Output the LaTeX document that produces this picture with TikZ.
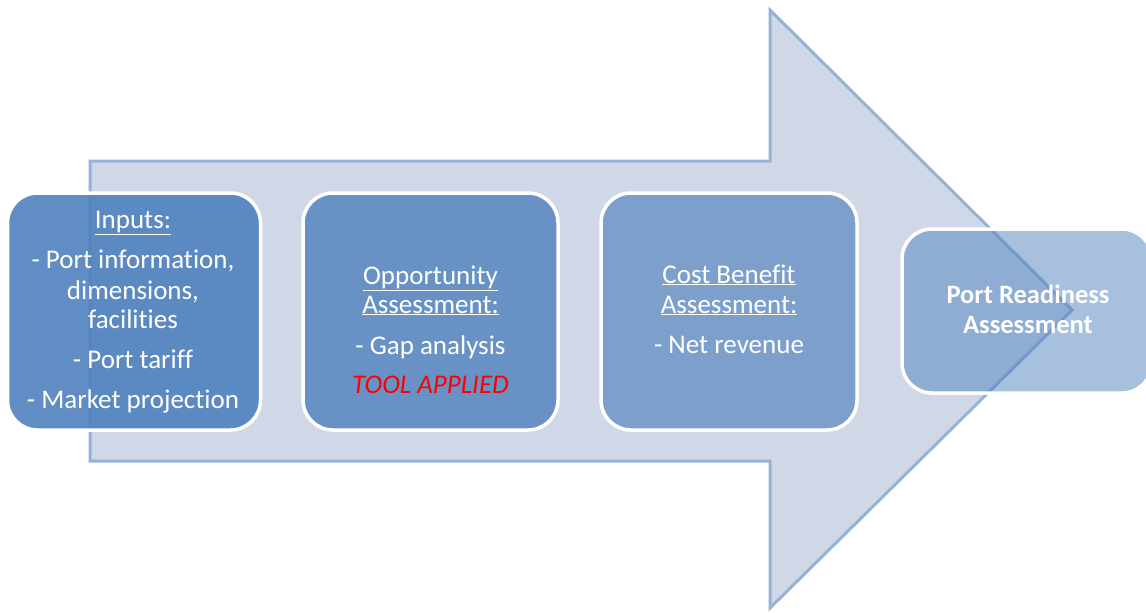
\documentclass[tikz,border=0pt]{standalone}
\usepackage{fontspec}
\setmainfont{Carlito}[RawFeature={-liga}]
\definecolor{arrowfill}{HTML}{D0D8E8}
\definecolor{arrowline}{HTML}{95B3D7}
\definecolor{accent}{HTML}{4F81BD}
\definecolor{toolred}{HTML}{FF0000}
\begin{document}
\begin{tikzpicture}[x=1pt,y=-1pt,
  box/.style={draw=white, line width=3.5pt, rounded corners=30pt, fill=accent, inner sep=0pt},
  txt/.style={text=white, anchor=base, inner sep=0pt, font=\fontsize{27}{30}\selectfont},
  boldtxt/.style={text=white, anchor=base, inner sep=0pt, font=\fontsize{26.5}{30}\selectfont\bfseries},
  redtxt/.style={text=toolred, anchor=base, inner sep=0pt, font=\fontsize{27}{30}\selectfont\itshape}]
\useasboundingbox (0,0) rectangle (1146,613);
\clip (0,0) rectangle (1146,613);
% big arrow
\draw[fill=arrowfill, draw=arrowline, line width=3pt, line join=miter]
  (90,161) -- (770,161) -- (770,10) -- (1072,310) -- (770,608) -- (770,461) -- (90,461) -- cycle;
% boxes
\node[box, fill opacity=0.9, minimum width=253pt, minimum height=237pt] (b1) at (134,311.5) {};
\node[box, fill opacity=0.8, minimum width=255pt, minimum height=237pt] (b2) at (430.5,311.5) {};
\node[box, fill opacity=0.65, minimum width=256pt, minimum height=237pt] (b3) at (729,311.5) {};
\node[box, fill opacity=0.5, minimum width=250pt, minimum height=164pt] (b4) at (1027,311) {};
% box 1 text
\node[txt] (t11) at (133,228) {\underline{Inputs:}};
\node[txt] (t12) at (133,268) {- Port information,};
\node[txt] (t13) at (133,299) {dimensions,};
\node[txt] (t14) at (133,328) {facilities};
\node[txt] (t15) at (133,368) {- Port tariff};
\node[txt] (t16) at (133,408) {- Market projection};
% box 2 text
\node[txt] (t21) at (430.5,284) {\underline{Opportunity}};
\node[txt] (t22) at (430.5,313) {\underline{Assessment:}};
\node[txt] (t23) at (430.5,354) {- Gap analysis};
\node[redtxt] (t24) at (430.5,393) {TOOL APPLIED};
% box 3 text
\node[txt] (t31) at (729,283) {\underline{Cost Benefit}};
\node[txt] (t32) at (729,313) {\underline{Assessment:}};
\node[txt] (t33) at (729,353) {- Net revenue};
% box 4 text
\node[boldtxt] (t41) at (1028,303) {Port Readiness};
\node[boldtxt] (t42) at (1028,333) {Assessment};
\end{tikzpicture}
\end{document}
